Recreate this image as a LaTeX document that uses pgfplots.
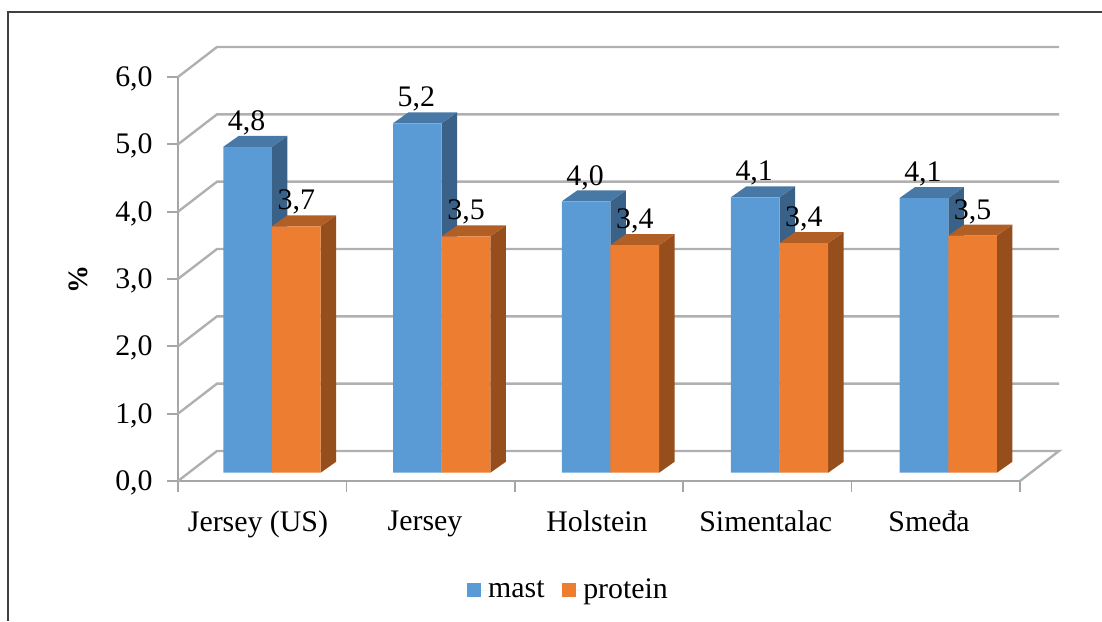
\documentclass[border=0pt]{standalone}
\usepackage{fontspec}
\setmainfont{Liberation Serif}
\usepackage{pgfplots}
\pgfplotsset{compat=1.18}

\definecolor{mastfront}{HTML}{5B9BD5}
\definecolor{masttop}{HTML}{4878A6}
\definecolor{mastside}{HTML}{3A6288}
\definecolor{protfront}{HTML}{ED7D31}
\definecolor{prottop}{HTML}{B25F25}
\definecolor{protside}{HTML}{964E1C}
\definecolor{axisgray}{HTML}{A6A6A6}
\definecolor{wallgray}{HTML}{B0B0B0}

\newcommand{\lbl}{\fontsize{22.4}{26}\selectfont}

% side and top faces of a bar: x of front left, x of front right, height, colours
\newcommand{\barfaces}[5]{%
  \pgfmathsetmacro{\xb}{#2+0.092}%
  \pgfmathsetmacro{\xc}{#1+0.092}%
  \pgfmathsetmacro{\ya}{0.123}%
  \pgfmathsetmacro{\yb}{0.123+0.163}%
  \pgfmathsetmacro{\yc}{#3+0.123}%
  \pgfmathsetmacro{\yd}{#3+0.123+0.163}%
  \addplot[fill=#5,draw=none,forget plot] coordinates {(#2,\ya) (\xb,\yb) (\xb,\yd) (#2,\yc)} -- cycle;
  \addplot[fill=#4,draw=none,forget plot] coordinates {(#1,\yc) (#2,\yc) (\xb,\yd) (\xc,\yd)} -- cycle;
}

\begin{document}
\begin{tikzpicture}[x=0.75pt,y=0.75pt]
\useasboundingbox (-178,-140) rectangle (924,481);
\begin{axis}[
    scale only axis,
    width=631.5pt,
    height=303pt,
    xmin=0, xmax=5,
    ymin=0, ymax=6,
    clip=false,
    axis x line*=bottom,
    axis y line*=left,
    axis line style={draw=axisgray,line width=1.6pt,-},
    tick style={draw=axisgray,line width=1.3pt},
    tick align=outside,
    major tick length=8pt,
    xtick={0,1,2,3,4,5},
    xticklabels={,,,,,},
    extra x ticks={0.475,1.467,2.488,3.49,4.46},
    extra x tick labels={Jersey (US),Jersey,Holstein,Simentalac,Smeđa},
    extra x tick style={major tick length=0pt},
    xticklabel style={font=\lbl,yshift=-19pt},
    ytick={0,1,2,3,4,5,6},
    yticklabel style={font=\lbl,xshift=-7.5pt,yshift=-1.5pt,
      /pgf/number format/.cd,fixed,fixed zerofill,precision=1,use comma,assume math mode=true},
    ylabel={\textbf{\%}},
    every axis y label/.style={at={(axis cs:-0.594,3)},rotate=90,anchor=center,font=\fontsize{21}{24}\selectfont},
    legend columns=2,
    legend style={at={(axis cs:2.32,-1.62)},anchor=center,draw=none,fill=none,font=\lbl,
      /tikz/every even column/.style={column sep=11pt}},
    legend image code/.code={\fill[#1] (0pt,-5.2pt) rectangle (10.5pt,5.2pt); \path (0pt,0pt) -- (14pt,0pt);},
]
% left wall, back wall and floor lines
\addplot[wallgray,line width=1.8pt,forget plot] coordinates {(0,0) (0.2316,0.4456) (5.2316,0.4456) (5,0)};
\addplot[wallgray,line width=1.8pt,forget plot] coordinates {(0,1) (0.2316,1.4456) (5.2316,1.4456)};
\addplot[wallgray,line width=1.8pt,forget plot] coordinates {(0,2) (0.2316,2.4456) (5.2316,2.4456)};
\addplot[wallgray,line width=1.8pt,forget plot] coordinates {(0,3) (0.2316,3.4456) (5.2316,3.4456)};
\addplot[wallgray,line width=1.8pt,forget plot] coordinates {(0,4) (0.2316,4.4456) (5.2316,4.4456)};
\addplot[wallgray,line width=1.8pt,forget plot] coordinates {(0,5) (0.2316,5.4456) (5.2316,5.4456)};
\addplot[wallgray,line width=1.8pt,forget plot] coordinates {(0,6) (0.2316,6.4456) (5.2316,6.4456)};

\barfaces{0.269}{0.558}{4.84}{masttop}{mastside}
\barfaces{1.277}{1.566}{5.19}{masttop}{mastside}
\barfaces{2.279}{2.568}{4.03}{masttop}{mastside}
\barfaces{3.283}{3.572}{4.09}{masttop}{mastside}
\barfaces{4.285}{4.574}{4.08}{masttop}{mastside}

\barfaces{0.558}{0.847}{3.66}{prottop}{protside}
\barfaces{1.566}{1.855}{3.51}{prottop}{protside}
\barfaces{2.568}{2.857}{3.38}{prottop}{protside}
\barfaces{3.572}{3.861}{3.41}{prottop}{protside}
\barfaces{4.574}{4.863}{3.52}{prottop}{protside}

\addplot[ybar,bar width=36.5pt,bar shift=-18.25pt,yshift=6.2pt,fill=mastfront,draw=none,forget plot,
    nodes near coords,
    every node near coord/.style={font=\lbl,anchor=center,yshift=18pt,xshift=-19pt,
      /pgf/number format/.cd,fixed,fixed zerofill,precision=1,use comma,assume math mode=true}]
    coordinates {(0.558,4.84) (1.566,5.19) (2.568,4.03) (3.572,4.09) (4.574,4.08)};
\addplot[ybar,bar width=36.5pt,bar shift=18.25pt,yshift=6.2pt,fill=protfront,draw=none,forget plot,
    nodes near coords,
    every node near coord/.style={font=\lbl,anchor=center,yshift=18pt,xshift=18.25pt,
      /pgf/number format/.cd,fixed,fixed zerofill,precision=1,use comma,assume math mode=true}]
    coordinates {(0.558,3.66) (1.566,3.51) (2.568,3.38) (3.572,3.41) (4.574,3.52)};

\addlegendimage{fill=mastfront,draw=none}
\addlegendentry{mast}
\addlegendimage{fill=protfront,draw=none}
\addlegendentry{protein}
\end{axis}
% chart frame, open at the bottom and right edges of the page
\draw[black!75,line width=1.5pt] (-169.5,-140) -- (-169.5,468.5) -- (924,468.5);
\end{tikzpicture}
\end{document}
